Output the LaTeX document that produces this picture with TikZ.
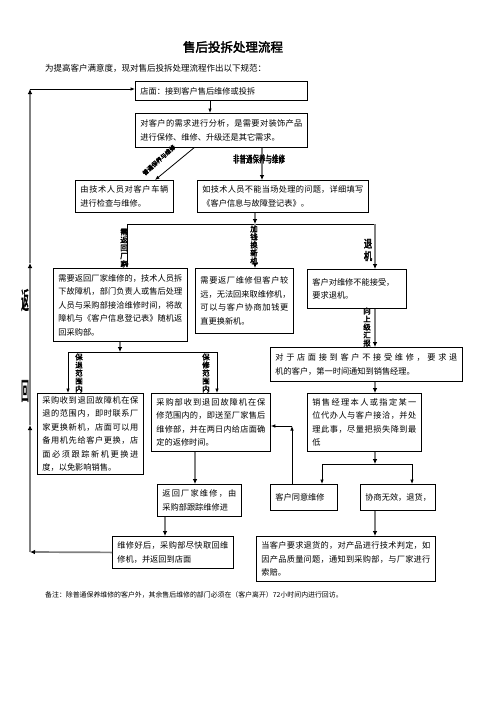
\documentclass[tikz,border=0pt]{standalone}
\usepackage{fontspec}
\setmainfont{Noto Sans CJK SC}
\newfontfamily\cjkb[FakeBold=2.5]{Noto Sans CJK SC}
\usetikzlibrary{arrows.meta}
\makeatletter
\def\myflx#1{\ifx\relax#1\unskip\else#1\hskip 0pt plus 1fil\relax\expandafter\myflx\fi}
\makeatother
\newcommand\fl[1]{\hbox to\linewidth{\myflx#1\relax}\break}
\newcommand\bxf{\fontsize{8.2}{13.5}\selectfont}
\definecolor{lg}{RGB}{128,128,128}
\begin{document}
\begin{tikzpicture}[x=1pt,y=-1pt,
  bx/.style={draw, line width=0.8pt, anchor=north west, inner xsep=5pt, inner ysep=2pt, align=flush left, font=\bxf},
  ln/.style={line width=0.8pt, -{Latex[length=4.5pt,width=3.6pt]}},
  pln/.style={line width=0.8pt},
  gl/.style={line width=1.7pt, draw=lg, -{Latex[length=5pt,width=4.6pt,color=black]}},
  vl/.style={font=\cjkb\fontsize{7.5}{8}\selectfont, align=center, inner sep=0pt},
  ]
\fill[white] (0,0) rectangle (496,702);
\useasboundingbox (0,0) rectangle (496,702);

\node[font=\cjkb\fontsize{12.5}{14}\selectfont] (title) at (233,47) {售后投拆处理流程};
\node[anchor=west, inner sep=0pt, font=\fontsize{8.5}{10}\selectfont] (intro) at (45,68) {为提高客户满意度，现对售后投拆处理流程作出以下规范：};

\node[bx, text width=162pt, minimum height=19pt] (b1) at (135,81) {店面：接到客户售后维修或投拆};
\node[bx, text width=162pt, minimum height=34pt] (b2) at (135,113) {\fl{对客户的需求进行分析，是需要对装饰产品}进行保修、维修、升级还是其它需求。};
\node[bx, text width=88pt, minimum height=32pt] (b3) at (75,180) {\fl{由技术人员对客户车辆}进行检查与维修。};
\node[bx, text width=161pt, minimum height=32pt] (b4) at (197,180) {\fl{如技术人员不能当场处理的问题，详细填写}《客户信息与故障登记表》。};
\node[bx, text width=124pt, minimum height=73pt] (b5) at (53,268) {\fl{需要返回厂家维修的，技术人员拆}\fl{下故障机，部门负责人或售后处理}\fl{人员与采购部接洽维修时间，将故}\fl{障机与《客户信息登记表》随机返}回采购部。};
\node[bx, text width=88pt, minimum height=65pt] (b6) at (195,268) {\fl{需要返厂维修但客户较}\fl{远，无法回来取维修机，}\fl{可以与客户协商加钱更}直更换新机。};
\node[bx, text width=89pt, minimum height=39pt] (b7) at (307,269) {客户对维修不能接受，\\要求退机。};
\node[bx, text width=182pt, minimum height=34pt] (b8) at (270,347) {\fl{对于店面接到客户不接受维修，要求退}机的客户，第一时间通知到销售经理。};
\node[bx, text width=104pt, minimum height=58pt] (b9) at (307,393) {\fl{销售经理本人或指定某一}\fl{位代办人与客户接洽，并处}\fl{理此事，尽量把损失降到最}低};
\node[bx, text width=96pt, minimum height=81pt] (b15) at (37,393) {\fl{采购收到退回故障机在保}\fl{退的范围内，即时联系厂}\fl{家更换新机，店面可以用}\fl{备用机先给客户更换，店}\fl{面必须跟踪新机更换进}度，以免影响销售。};
\node[bx, text width=109pt, minimum height=58pt] (b16) at (151,393) {\fl{采购部收到退回故障机在保}\fl{修范围内的，即送至厂家售后}\fl{维修部，并在两日内给店面确}定的返修时间。};
\node[bx, text width=57pt, minimum height=26pt] (b10) at (270,484) {客户同意维修};
\node[bx, text width=65pt, minimum height=26pt] (b11) at (360,484) {协商无效，退货，};
\node[bx, text width=74pt, minimum height=32pt] (b12) at (157,484) {\fl{返回厂家维修，由}采购部跟踪维修进};
\node[bx, text width=111pt, minimum height=32pt] (b13) at (112,536) {\fl{维修好后，采购部尽快取回维}修机，并返回到店面};
\node[bx, text width=169pt, minimum height=45pt] (b14) at (256,536) {\fl{当客户要求退货的，对产品进行技术判定，如}\fl{因产品质量问题，通知到采购部，与厂家进行}索赔。};

\node[anchor=west, inner sep=0pt, font=\fontsize{6.9}{8}\selectfont] (note) at (45,595) {备注：除普通保养维修的客户外，其余售后维修的部门必须在（客户离开）72小时间内进行回访。};

% return line on the left
\coordinate (tl) at (30,89);
\coordinate (m2) at (30,263);
\coordinate (m1) at (30,425);
\coordinate (bl) at (30,552);
\draw[gl] (b13.west) -- (bl);
\draw[gl] (bl) -- (m1);
\draw[gl] (m1) -- (m2);
\draw[gl] (m2) -- (tl);
\draw[ln] (tl) -- (tl -| b1.west);

\draw[ln] (210,0 |- b1.south) -- (210,0 |- b2.north);
\draw[ln] (194,0 |- b2.south) -- (155,0 |- b3.north);
\draw[gl] (262,0 |- b2.south) -- (262,0 |- b4.north);

\coordinate (jl) at (127,224);
\coordinate (jm) at (255,224);
\coordinate (jr) at (375,224);
\draw[gl] (jm |- b4.south) -- (jm);
\draw[pln] (jl) -- (jr);
\draw[ln] (jl) -- (jl |- b5.north);
\draw[gl] (jm) -- (jm |- b6.north);
\draw[gl] (jr) -- (jr |- b7.north);
\draw[gl] (jr |- b7.south) -- (jr |- b8.north);
\draw[gl] (jr |- b8.south) -- (jr |- b9.north);

\coordinate (kc) at (375,464);
\coordinate (kl) at (322,464);
\coordinate (kr) at (412,464);
\draw[gl] (kc |- b9.south) -- (kc);
\draw[pln] (kl) -- (kr);
\draw[ln] (kl) -- (kl |- b10.north);
\draw[ln] (kr) -- (kr |- b11.north);
\draw[gl] (kc |- b11.south) -- (kc |- b14.north);

\coordinate (c1) at (292,426);
\draw[ln] (c1 |- b10.north) -- (c1);
\draw[ln] (c1) -- (c1 -| b16.east);

\coordinate (qc) at (120,352);
\coordinate (ql) at (68,352);
\coordinate (qr) at (217,352);
\draw[gl] (qc |- b5.south) -- (qc);
\draw[pln] (ql) -- (qr);
\draw[ln] (ql) -- (ql |- b15.north);
\draw[ln] (qr) -- (qr |- b16.north);
\draw[gl] (195,0 |- b16.south) -- (195,0 |- b12.north);
\draw[gl] (165,0 |- b12.south) -- (165,0 |- b13.north);

% labels
\node[font=\cjkb\fontsize{6}{6}\selectfont, rotate=42, inner sep=0pt] (lab1) at (159,160) {普通保养与维修};
\node[font=\cjkb\fontsize{6.5}{6.5}\selectfont, yscale=1.5, inner sep=0pt] (lab2) at (259,159) {非普通保养与维修};
\node[vl] (lab3) at (124,248) {需\\返\\回\\厂\\家};
\node[vl] (lab4) at (254,245) {加\\钱\\换\\新\\机};
\node[vl, font=\cjkb\fontsize{11}{12.5}\selectfont, xscale=0.75] (lab5) at (368,250) {退\\机};
\node[vl] (lab6) at (367,327) {向\\上\\级\\汇\\报};
\node[vl] (lab7) at (79,373) {保\\退\\范\\围\\内};
\node[vl] (lab8) at (206,373) {保\\修\\范\\围\\内};
\node[font=\cjkb\fontsize{14}{14}\selectfont, xscale=0.55, yscale=1.75, inner sep=0pt] (fan) at (25,300) {返};
\node[font=\cjkb\fontsize{14}{14}\selectfont, xscale=0.55, yscale=1.75, inner sep=0pt] (hui) at (25,391) {回};
\end{tikzpicture}
\end{document}
